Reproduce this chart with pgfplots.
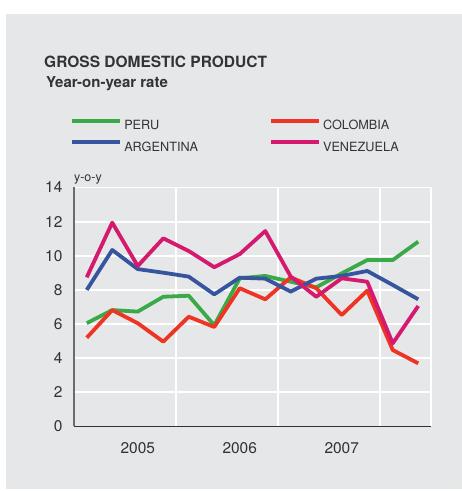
\documentclass[border=0pt]{standalone}
\usepackage{pgfplots}
\pgfplotsset{compat=1.18}
\usepackage{fontspec}
\setmainfont{TeX Gyre Heros}
\definecolor{panel}{RGB}{230,231,232}
\definecolor{txt}{RGB}{51,51,51}
\definecolor{cperu}{RGB}{58,170,72}
\definecolor{ccol}{RGB}{238,52,36}
\definecolor{carg}{RGB}{55,85,158}
\definecolor{cven}{RGB}{212,25,110}
\begin{document}
\begin{tikzpicture}
\useasboundingbox (0pt,0pt) rectangle (462pt,491pt);
\fill[panel] (6pt,2pt) rectangle (462pt,477pt);
\node[anchor=base west, font=\fontsize{15.5}{18}\selectfont\bfseries, text=txt, inner sep=0pt] at (44pt,423pt) {GROSS DOMESTIC PRODUCT};
\node[anchor=base west, font=\fontsize{15}{18}\selectfont\bfseries, text=txt, inner sep=0pt] at (46pt,403pt) {Year-on-year rate};
\begin{axis}[
  at={(74pt,64.5pt)}, anchor=south west,
  scale only axis, width=357pt, height=239pt,
  xmin=-0.5, xmax=13.5, ymin=0, ymax=14,
  axis lines*=left,
  x axis line style={draw=txt, line width=1.2pt},
  y axis line style={draw=gray!85!black, line width=1.2pt},
  xtick={3.5,7.5,11.5,13.5}, xticklabels={},
  extra x ticks={2,6,10}, extra x tick labels={2005,2006,2007},
  extra x tick style={grid=none, major tick length=0pt},
  ytick={0,2,...,14},
  major tick length=0pt,
  xmajorgrids, ymajorgrids,
  grid style={white, line width=1.8pt},
  tick label style={font=\fontsize{15.5}{18}\selectfont, text=txt},
  /pgf/number format/assume math mode=true,
  yticklabel style={anchor=east, xshift=-8pt},
  xticklabel style={yshift=-12pt},
  legend columns=2,
  legend cell align=left,
  legend style={at={(axis description cs:-0.011,1.287)}, anchor=north west, draw=none, fill=none,
    inner sep=0pt, font=\fontsize{12.7}{14}\selectfont, text=txt,
    nodes={inner sep=0pt},
    row sep=9pt,
    /tikz/every odd column/.append style={column sep=2pt},
    /tikz/every even column/.append style={column sep=71pt}},
  legend image code/.code={\draw[#1, line width=4pt] (0pt,4.8pt) -- (48pt,4.8pt);},
  every axis plot/.append style={line width=3.8pt, line join=round},
  clip=false,
]
\addplot[cperu] coordinates {(0,6.05) (1,6.82) (2,6.73) (3,7.6) (4,7.66) (5,5.93) (6,8.68) (7,8.82) (8,8.48) (9,8.15) (10,8.97) (11,9.75) (12,9.75) (13,10.83)};
\addlegendentry{PERU}
\addplot[ccol] coordinates {(0,5.2) (1,6.82) (2,6.05) (3,4.97) (4,6.43) (5,5.83) (6,8.1) (7,7.45) (8,8.74) (9,8.1) (10,6.53) (11,7.96) (12,4.48) (13,3.7)};
\addlegendentry{COLOMBIA}
\addplot[carg] coordinates {(0,8.0) (1,10.34) (2,9.22) (3,9.01) (4,8.78) (5,7.74) (6,8.72) (7,8.66) (8,7.9) (9,8.66) (10,8.82) (11,9.11) (12,8.29) (13,7.45)};
\addlegendentry{ARGENTINA}
\addplot[cven] coordinates {(0,8.74) (1,11.94) (2,9.4) (3,11.02) (4,10.28) (5,9.33) (6,10.1) (7,11.45) (8,8.78) (9,7.6) (10,8.68) (11,8.48) (12,4.87) (13,7.06)};
\addlegendentry{VENEZUELA}
\node[anchor=base west, font=\fontsize{12.5}{14}\selectfont, text=txt, inner sep=0pt] at (rel axis cs:0,1) [yshift=6pt] {y-o-y};
\end{axis}
\end{tikzpicture}
\end{document}
